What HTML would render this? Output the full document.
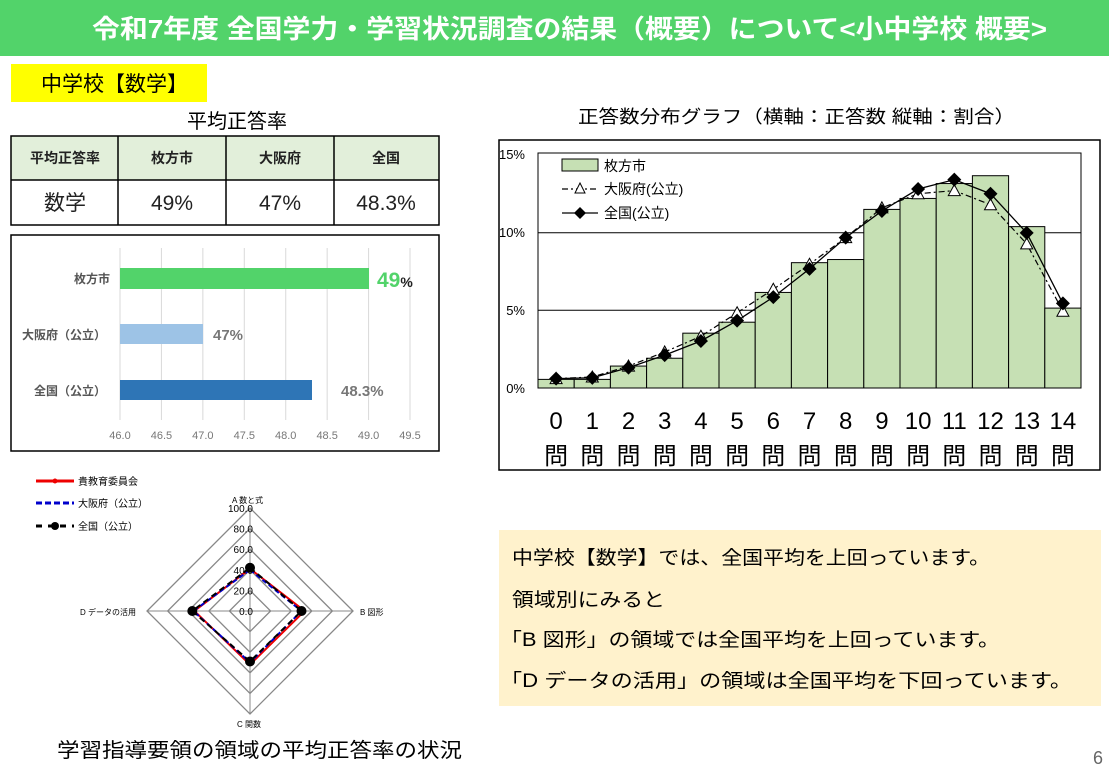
<!DOCTYPE html>
<html><head><meta charset="utf-8"><style>
body{margin:0;background:#fff;}
svg{display:block;font-family:"Liberation Sans","Noto Sans CJK JP",sans-serif;}
</style></head><body>
<svg id="s" width="1109" height="767" viewBox="0 0 1109 767" xmlns="http://www.w3.org/2000/svg">
<rect x="0" y="0" width="1109" height="56" fill="#52d36a"/>
<text x="92" y="38" font-size="26" font-weight="bold" fill="#fff" textLength="955" lengthAdjust="spacingAndGlyphs">令和7年度 全国学力・学習状況調査の結果（概要）について&lt;小中学校 概要&gt;</text>
<rect x="11" y="64" width="196" height="38" fill="#ffff00"/>
<text x="41" y="91" font-size="21" fill="#000">中学校【数学】</text>
<text x="237" y="128" font-size="20" text-anchor="middle">平均正答率</text>
<rect x="11" y="136" width="428" height="44" fill="#e2efda"/>
<g stroke="#000" stroke-width="1.5" fill="none">
<rect x="11" y="136" width="428" height="89"/>
<line x1="11" y1="180" x2="439" y2="180"/>
<line x1="118" y1="136" x2="118" y2="225"/>
<line x1="226" y1="136" x2="226" y2="225"/>
<line x1="334" y1="136" x2="334" y2="225"/>
</g>
<g font-size="14" text-anchor="middle" font-weight="bold" fill="#222">
<text x="65" y="163">平均正答率</text><text x="172" y="163">枚方市</text><text x="280" y="163">大阪府</text><text x="386" y="163">全国</text></g>
<g font-size="21" text-anchor="middle" fill="#222">
<text x="65" y="210">数学</text><text x="172" y="210">49%</text><text x="280" y="210">47%</text><text x="386" y="210">48.3%</text></g>
<rect x="11" y="235" width="428" height="216" fill="#fff" stroke="#000" stroke-width="1.5"/>
<g id="hg" stroke="#d9d9d9" stroke-width="1"></g>
<rect x="120" y="268" width="249" height="21" fill="#52d36a"/>
<rect x="120" y="324" width="83" height="20" fill="#9dc3e6"/>
<rect x="120" y="380" width="192" height="20" fill="#2e75b6"/>
<g font-size="12" font-weight="bold" fill="#555" text-anchor="end">
<text x="110" y="283">枚方市</text><text x="106" y="339">大阪府（公立）</text><text x="106" y="395">全国（公立）</text></g>
<text x="377" y="287" font-size="21" font-weight="bold" fill="#52d36a">49<tspan font-size="14" fill="#222">%</tspan></text>
<text x="213" y="340" font-size="15" font-weight="bold" fill="#777">47%</text>
<text x="341" y="396" font-size="15" font-weight="bold" fill="#777">48.3%</text>
<g id="hl" font-size="11" fill="#777" text-anchor="middle"></g>

<text x="578" y="123" font-size="18" textLength="437" lengthAdjust="spacingAndGlyphs">正答数分布グラフ（横軸：正答数  縦軸：割合）</text>
<rect x="499" y="140" width="601" height="330" fill="#fff" stroke="#000" stroke-width="1.5"/>
<rect x="538" y="153" width="543" height="235" fill="#fff" stroke="#000" stroke-width="1"/>
<g stroke="#000" stroke-width="1"><line x1="538" y1="232.7" x2="1081" y2="232.7"/><line x1="538" y1="310.3" x2="1081" y2="310.3"/></g>
<g font-size="13" fill="#000" text-anchor="end"><text x="525" y="159">15%</text><text x="525" y="237">10%</text><text x="525" y="315">5%</text><text x="525" y="393">0%</text></g>
<g id="bars"></g>
<path id="osk" fill="none" stroke="#000" stroke-width="1.2" stroke-dasharray="6,3,2,3"/>
<path id="nat" fill="none" stroke="#000" stroke-width="1.3"/>
<g id="mk"></g>
<g id="xl" font-size="24" text-anchor="middle" fill="#000"></g>
<rect x="562" y="159" width="36" height="12" fill="#c6e0b4" stroke="#000"/>
<text x="604" y="171" font-size="14">枚方市</text>
<line x1="562" y1="189" x2="598" y2="189" stroke="#000" stroke-dasharray="6,3,2,3" stroke-width="1.3"/>
<polygon points="580,183 585,193 575,193" fill="#fff" stroke="#000"/>
<text x="604" y="194" font-size="14">大阪府(公立)</text>
<line x1="562" y1="213" x2="598" y2="213" stroke="#000" stroke-width="1.3"/>
<polygon points="580,207 586,213 580,219 574,213" fill="#000"/>
<text x="604" y="218" font-size="14">全国(公立)</text>

<g id="radar"></g>
<g font-size="10" fill="#000">
<line x1="36" y1="481" x2="74" y2="481" stroke="#e00" stroke-width="3"/><circle cx="55" cy="481" r="2.5" fill="#e00"/>
<text x="78" y="485">貴教育委員会</text>
<line x1="36" y1="503" x2="74" y2="503" stroke="#00c" stroke-width="3" stroke-dasharray="6,3"/>
<text x="78" y="507">大阪府（公立）</text>
<line x1="36" y1="526" x2="74" y2="526" stroke="#000" stroke-width="3" stroke-dasharray="6,6"/><circle cx="55" cy="526" r="4" fill="#000"/>
<text x="78" y="530">全国（公立）</text>
<text x="232" y="503" font-size="8">A  数と式</text>
<text x="360" y="615" font-size="8">B  図形</text>
<text x="237" y="727" font-size="8">C  関数</text>
<text x="80" y="615" font-size="8">D  データの活用</text>
</g>
<text x="57" y="757" font-size="20" textLength="405" lengthAdjust="spacingAndGlyphs">学習指導要領の領域の平均正答率の状況</text>

<rect x="499" y="530" width="602" height="176" fill="#fff2cc"/>
<g font-size="19" fill="#000">
<text x="512" y="564" textLength="478" lengthAdjust="spacingAndGlyphs">中学校【数学】では、全国平均を上回っています。</text>
<text x="512" y="606" textLength="153" lengthAdjust="spacingAndGlyphs">領域別にみると</text>
<text x="500" y="646" textLength="500" lengthAdjust="spacingAndGlyphs">「B  図形」の領域では全国平均を上回っています。</text>
<text x="500" y="687" textLength="572" lengthAdjust="spacingAndGlyphs">「D  データの活用」の領域は全国平均を下回っています。</text>
</g>
<text x="1093" y="764" font-size="18" fill="#666">6</text>
</svg>
<script>
var NS="http://www.w3.org/2000/svg";
function el(p,t,a,txt){var e=document.createElementNS(NS,t);for(var k in a)e.setAttribute(k,a[k]);if(txt!=null)e.textContent=txt;document.getElementById(p).appendChild(e);return e;}
for(var i=0;i<8;i++){var x=120+i*41.43;el("hg","line",{x1:x,y1:248,x2:x,y2:420});el("hl","text",{x:x,y:439},(46+i*0.5).toFixed(1));}
var bars=[0.55,0.55,1.4,1.9,3.5,4.2,6.1,8.0,8.2,11.4,12.1,13.05,13.55,10.3,5.1];
var nat=[0.6,0.65,1.3,2.1,3.0,4.3,5.8,7.6,9.6,11.3,12.7,13.3,12.4,9.9,5.4];
var osk=[0.6,0.7,1.4,2.3,3.3,4.8,6.3,7.9,9.6,11.5,12.4,12.6,11.7,9.2,4.9];
var w=543/15;function Y(v){return 388-v*235/15;}
var dn="",do_="";
for(var i=0;i<15;i++){var x=538+i*w;el("bars","rect",{x:x,y:Y(bars[i]),width:w,height:388-Y(bars[i]),fill:"#c6e0b4",stroke:"#000","stroke-width":1});
var cx=x+w/2;dn+=(i?"L":"M")+cx+","+Y(nat[i]);do_+=(i?"L":"M")+cx+","+Y(osk[i]);
el("xl","text",{x:cx,y:429},String(i));el("xl","text",{x:cx,y:464},"問");}
document.getElementById("nat").setAttribute("d",dn);document.getElementById("osk").setAttribute("d",do_);
for(var i=0;i<15;i++){var cx=538+i*w+w/2,y=Y(osk[i]);el("mk","polygon",{points:cx+","+(y-6)+" "+(cx+6)+","+(y+5)+" "+(cx-6)+","+(y+5),fill:"#fff",stroke:"#000"});
y=Y(nat[i]);el("mk","polygon",{points:cx+","+(y-7)+" "+(cx+7)+","+y+" "+cx+","+(y+7)+" "+(cx-7)+","+y,fill:"#000"});}
var c=[250,611],R=103;
function P(a,b,cc,d){var r=R/100;return (c[0])+","+(c[1]-a*r)+" "+(c[0]+b*r)+","+c[1]+" "+c[0]+","+(c[1]+cc*r)+" "+(c[0]-d*r)+","+c[1];}
for(var k=1;k<=5;k++){var v=k*20;el("radar","polygon",{points:P(v,v,v,v),fill:"none",stroke:"#888","stroke-width":1.3});}
el("radar","line",{x1:250,y1:508,x2:250,y2:714,stroke:"#888"});el("radar","line",{x1:147,y1:611,x2:353,y2:611,stroke:"#888"});
for(var k=0;k<=5;k++)el("radar","text",{x:253,y:615-k*20.6,"font-size":10,"text-anchor":"end"},(k*20).toFixed(1));
el("radar","polygon",{points:P(41,53,52,54),fill:"none",stroke:"#e00","stroke-width":2});
el("radar","polygon",{points:P(40,50,50,55),fill:"none",stroke:"#00c","stroke-width":2,"stroke-dasharray":"5,3"});
el("radar","polygon",{points:P(42,50,49,56),fill:"none",stroke:"#000","stroke-width":2,"stroke-dasharray":"6,4"});
[[250,611-42*1.03],[250+50*1.03,611],[250,611+49*1.03],[250-56*1.03,611]].forEach(function(p){el("radar","circle",{cx:p[0],cy:p[1],r:5,fill:"#000"});});
</script>
</body></html>
